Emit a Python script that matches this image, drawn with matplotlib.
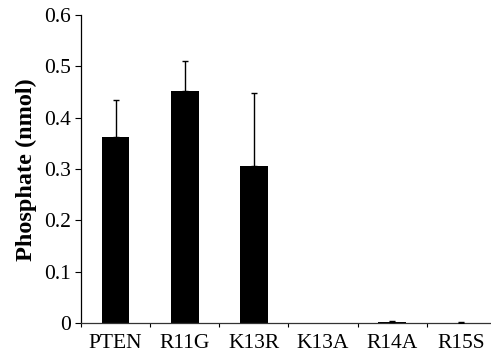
import matplotlib.pyplot as plt
import numpy as np

labels = ['PTEN', 'R11G', 'K13R', 'K13A', 'R14A', 'R15S']
values = [0.362, 0.452, 0.306, 0.0, 0.003, 0.001]
errors = [0.072, 0.058, 0.143, 0.0, 0.002, 0.001]

plt.rcParams['font.family'] = ['Liberation Serif', 'DejaVu Serif']

fig = plt.figure(figsize=(4.91, 3.61), dpi=100)
ax = fig.add_axes([0.165, 0.105, 0.845, 0.853])

x = np.arange(len(labels))
vals = np.array(values)
errs = np.array(errors)
ax.bar(x, vals, width=0.4, color='black', zorder=2)
has_err = errs > 0
ax.errorbar(x[has_err], vals[has_err], yerr=[np.zeros(has_err.sum()), errs[has_err]],
            fmt='none', ecolor='black', elinewidth=1.0, capsize=2.5, capthick=1.0, zorder=3)

ax.set_xlim(-0.5, 5.5)
ax.set_ylim(0, 0.6)
ax.set_yticks([0, 0.1, 0.2, 0.3, 0.4, 0.5, 0.6])
ax.set_yticklabels(['0', '0.1', '0.2', '0.3', '0.4', '0.5', '0.6'])
ax.set_xticks(x)
ax.set_xticklabels(labels)
ax.set_xticks(np.arange(-0.5, 5.6, 1), minor=True)

ax.tick_params(axis='x', which='major', length=0, pad=8, labelsize=15.5)
ax.tick_params(axis='x', which='minor', length=3, width=0.8, direction='out')
ax.tick_params(axis='y', length=4, width=0.8, direction='out', labelsize=15.5, pad=3)

ax.spines['top'].set_visible(False)
ax.spines['right'].set_visible(False)
ax.spines['left'].set_linewidth(0.9)
ax.spines['bottom'].set_linewidth(0.9)
ax.spines['bottom'].set_color('#333333')

ax.set_ylabel('Phosphate (nmol)', fontsize=17.5, fontweight='bold', labelpad=5)

fig.savefig('out.png', dpi=100)
